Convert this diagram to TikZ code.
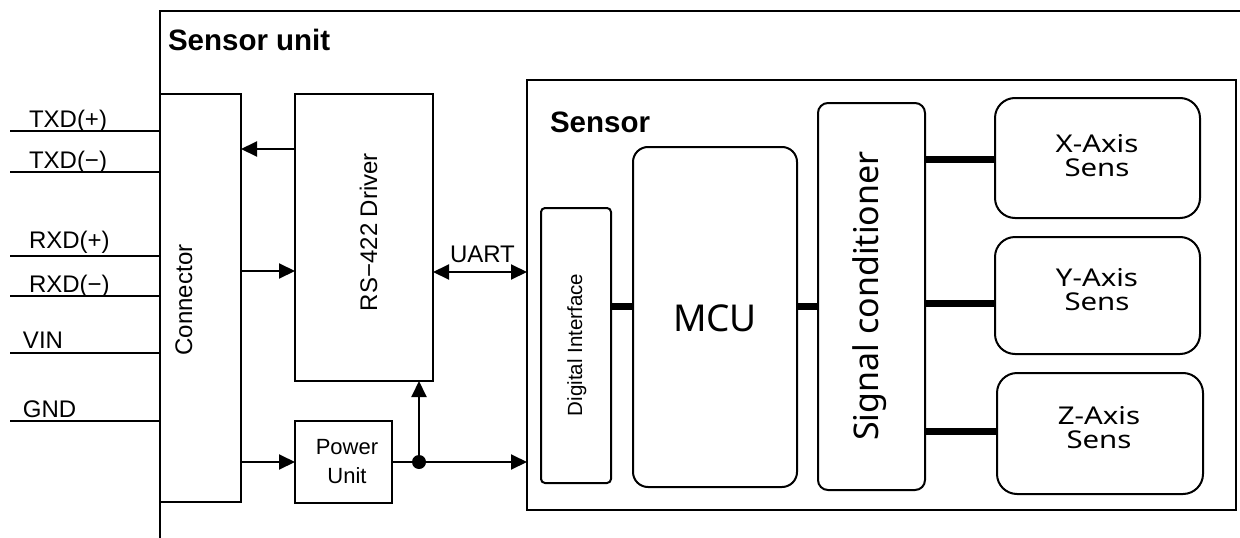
\documentclass[tikz,border=0pt]{standalone}
\usepackage{fontspec}
\setmainfont{Liberation Sans}
\newfontfamily\thinfont{Liberation Sans}
\newfontfamily\nicefont{Noto Sans}
\newfontfamily\axisfont[FakeStretch=1.2]{Noto Sans}
\usetikzlibrary{arrows.meta}
\begin{document}
\begin{tikzpicture}[x=1pt,y=-1pt,
  every node/.style={inner sep=0pt, outer sep=0pt},
  blk/.style={draw, line width=2pt, anchor=north west, inner sep=0pt, outer sep=0pt},
  ln/.style={line width=2pt},
  arr/.style={ln, -{Triangle[length=16pt,width=15pt]}},
  arrboth/.style={ln, {Triangle[length=16pt,width=15pt]}-{Triangle[length=16pt,width=15pt]}},
  bus/.style={line width=7pt},
  sig/.style={font=\thinfont\fontsize{24}{26}\selectfont, anchor=base west},
  rlab/.style={rotate=90, anchor=base},
  title/.style={font=\fontsize{29.5}{32}\selectfont\bfseries, anchor=base west},
  axlab/.style={font=\axisfont\fontsize{24.5}{24}\selectfont, align=center},
]
\useasboundingbox (0,0) rectangle (1240,538);
\fill[white] (0,0) rectangle (1240,538);

% outer sensor unit frame
\coordinate (otr) at (1242,11);
\coordinate (otl) at (160,11);
\coordinate (obl) at (160,540);
\draw[line width=2.5pt] (otr) -- (otl) -- (obl);
\node[title] (sutitle) at (168,50) {Sensor unit};

% blocks
\node[blk, minimum width=81pt, minimum height=408pt] (conn) at (160,94) {};
\node[blk, minimum width=138pt, minimum height=287pt] (rs) at (295,94) {};
\node[blk, minimum width=97pt, minimum height=82pt] (pwr) at (295,421) {};
\node[blk, minimum width=709pt, minimum height=430pt] (sensor) at (527,80) {};
\node[blk, rounded corners=4pt, minimum width=70pt, minimum height=275pt] (di) at (541,208) {};
\node[blk, rounded corners=15pt, minimum width=164pt, minimum height=340pt] (mcu) at (633,147) {};
\node[blk, rounded corners=10pt, minimum width=107pt, minimum height=387pt] (sc) at (818,103) {};
\node[blk, rounded corners=20pt, minimum width=205pt, minimum height=120pt] (xs) at (995,98) {};
\node[blk, rounded corners=20pt, minimum width=205pt, minimum height=117pt] (ys) at (995,237) {};
\node[blk, rounded corners=20pt, minimum width=206pt, minimum height=121pt] (zs) at (997,373) {};

% block texts
\node[rlab, font=\thinfont\fontsize{24}{26}\selectfont] (conntxt) at (192,300) {Connector};
\node[rlab, font=\thinfont\fontsize{24}{26}\selectfont] (rstxt) at (377,232) {RS−422 Driver};
\node[font=\thinfont\fontsize{22}{29}\selectfont, align=center] (pwrtxt) at (347,462) {Power\\Unit};
\node[title] (stitle) at (550,132) {Sensor};
\node[rlab, font=\fontsize{20.5}{22}\selectfont] (ditxt) at (582,345) {Digital Interface};
\node[font=\nicefont\fontsize{37}{40}\selectfont] (mcutxt) at (715,318) {MCU};
\node[rotate=90, font=\nicefont\fontsize{34}{36}\selectfont] (sctxt) at (870,296) {Signal conditioner};
\node[axlab] (xstxt) at (1097,156) {X-Axis\\Sens};
\node[axlab] (ystxt) at (1097,290) {Y-Axis\\Sens};
\node[axlab] (zstxt) at (1099,428) {Z-Axis\\Sens};

% external signal lines
\coordinate (l1) at (10,131);
\coordinate (l2) at (10,172);
\coordinate (l3) at (10,256);
\coordinate (l4) at (10,296);
\coordinate (l5) at (10,353);
\coordinate (l6) at (10,421);
\foreach \c in {l1,l2,l3,l4,l5,l6} \draw[ln] (\c) -- (\c -| conn.west);
\node[sig] (txdp) at (29,127) {TXD(+)};
\node[sig] (txdm) at (29,168) {TXD(−)};
\node[sig] (rxdp) at (29,248) {RXD(+)};
\node[sig] (rxdm) at (29,292) {RXD(−)};
\node[sig] (vin) at (23,348) {VIN};
\node[sig] (gnd) at (23,417) {GND};

% arrows
\coordinate (a1) at (295,149);
\draw[arr] (a1) -- (a1 -| conn.east);
\coordinate (a2) at (241,271);
\draw[arr] (a2) -- (a2 -| rs.west);
\draw[arr] (conn.east |- pwr.west) -- (pwr.west);
\coordinate (dot) at (419,462);
\draw[arr] (pwr.east) -- (pwr.east -| sensor.west);
\draw[arr] (dot) -- (dot |- rs.south);
\fill (dot) circle[radius=7];
\coordinate (ua) at (433,272);
\draw[arrboth] (ua) -- (ua -| sensor.west);
\node[sig] (uart) at (450,262) {UART};

% buses
\coordinate (bm) at (0,306);
\draw[bus] (di.east |- bm) -- (mcu.west |- bm);
\draw[bus] (mcu.east |- bm) -- (sc.west |- bm);
\coordinate (bx) at (0,159);
\coordinate (by) at (0,303);
\coordinate (bz) at (0,431);
\draw[bus] (sc.east |- bx) -- (xs.west |- bx);
\draw[bus] (sc.east |- by) -- (ys.west |- by);
\draw[bus] (sc.east |- bz) -- (zs.west |- bz);
\end{tikzpicture}
\end{document}
